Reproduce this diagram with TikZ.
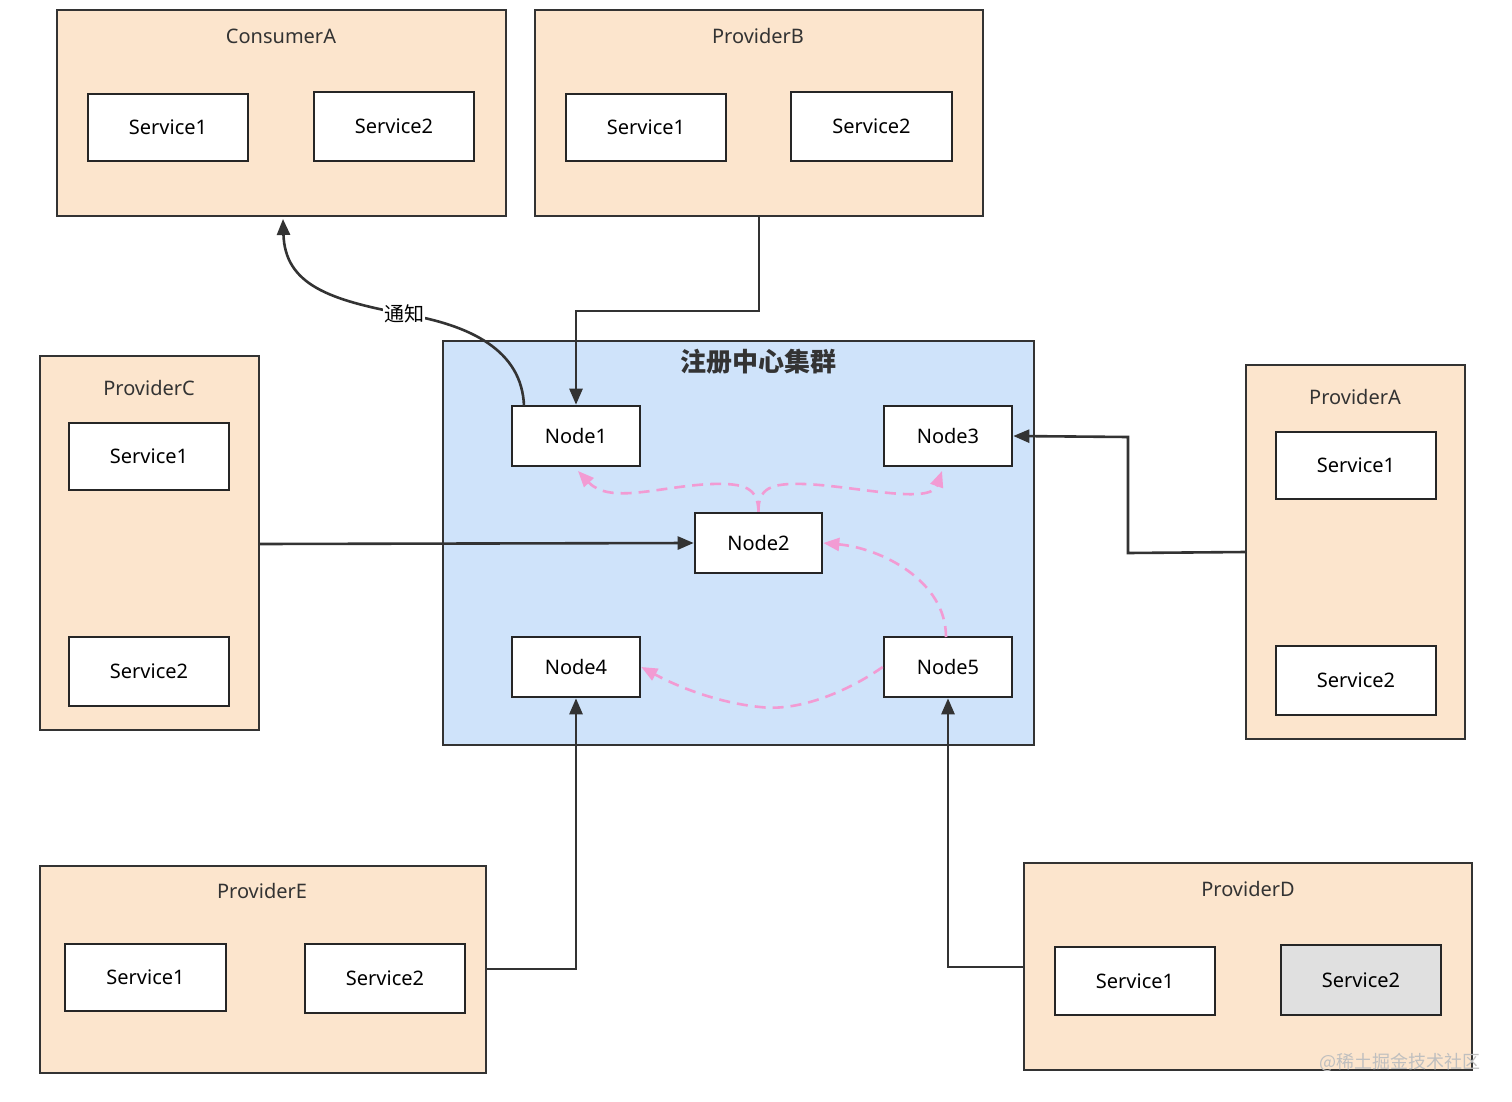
\documentclass[tikz,border=0pt]{standalone}
\usepackage{fontspec}
\setmainfont{Noto Sans}
\newfontfamily\cjk{Noto Sans CJK SC}
\usetikzlibrary{arrows.meta}
\definecolor{peach}{HTML}{FCE5CD}
\definecolor{clblue}{HTML}{CFE3FA}
\definecolor{pinkd}{HTML}{F29BD3}
\begin{document}
\begin{tikzpicture}[x=1pt,y=-1pt,
  grp/.style={draw=black!80,line width=2.6pt,fill=peach},
  svc/.style={draw=black!85,line width=2.6pt,fill=white,font=\fontsize{20}{24}\selectfont},
  ttl/.style={font=\fontsize{20}{24}\selectfont,text=black!80},
  conn/.style={draw=black!80,line width=2.6pt,-{Triangle[length=16pt,width=13pt]}},
  pk/.style={draw=pinkd,line width=2.6pt,dash pattern=on 11pt off 7pt,-{Triangle[length=16pt,width=13pt]}}]
\useasboundingbox (0,0) rectangle (1512,1102);
\def\sv#1#2#3#4#5#6{\node[svc,minimum width={#4-#2},minimum height={#5-#3},inner sep=0pt] (#1) at ({(#2+#4)/2},{(#3+#5)/2}) {#6};}
% ConsumerA
\draw[grp] (57,10) rectangle (506,216);
\node[ttl] (tA) at (281,36) {ConsumerA};
\sv{ca1}{88}{94}{248}{161}{Service1}
\sv{ca2}{314}{92}{474}{161}{Service2}
% ProviderB
\draw[grp] (535,10) rectangle (983,216);
\node[ttl] (tB) at (758,36) {ProviderB};
\sv{pb1}{566}{94}{726}{161}{Service1}
\sv{pb2}{791}{92}{952}{161}{Service2}
% ProviderC
\draw[grp] (40,356) rectangle (259,730);
\node[ttl] (tC) at (149,388) {ProviderC};
\sv{pc1}{69}{423}{229}{490}{Service1}
\sv{pc2}{69}{637}{229}{706}{Service2}
% ProviderA
\draw[grp] (1246,365) rectangle (1465,739);
\node[ttl] (tPA) at (1355,397) {ProviderA};
\sv{pa1}{1276}{432}{1436}{499}{Service1}
\sv{pa2}{1276}{646}{1436}{715}{Service2}
% ProviderE
\draw[grp] (40,866) rectangle (486,1073);
\node[ttl] (tE) at (262,891) {ProviderE};
\sv{pe1}{65}{944}{226}{1011}{Service1}
\sv{pe2}{305}{944}{465}{1013}{Service2}
% ProviderD
\draw[grp] (1024,863) rectangle (1472,1070);
\node[ttl] (tD) at (1248,889) {ProviderD};
\sv{pd1}{1055}{947}{1215}{1015}{Service1}
\node[svc,fill=black!12,minimum width=160,minimum height=70,inner sep=0pt] (pd2) at (1361,980) {Service2};
% cluster
\draw[draw=black!80,line width=2.6pt,fill=clblue] (443,341) rectangle (1034,745);
\node[font=\cjk\bfseries\fontsize{26}{30}\selectfont,text=black!80] (ct) at (758,362) {注册中心集群};
\sv{n1}{512}{406}{640}{466}{Node1}
\sv{n3}{884}{406}{1012}{466}{Node3}
\sv{n2}{695}{513}{822}{573}{Node2}
\sv{n4}{512}{637}{640}{697}{Node4}
\sv{n5}{884}{637}{1012}{697}{Node5}
% connectors
\draw[conn] (759,216) -- (759,311) -- (576,311) -- (n1.north);
\draw[conn] (259,544) -- (n2.west);
\draw[conn] (1246,552) -- (1128,553) -- (1128,437) -- (n3.east);
\draw[conn] (486,969) -- (576,969) -- (n4.south);
\draw[conn] (1024,967) -- (948,967) -- (n5.south -| 948,0);
\coordinate (n1a) at (524,406);
\coordinate (caB) at (283,219);
\draw[conn] (n1a) .. controls (522,350) and (470,325) .. (404,314) .. controls (330,300) and (285,285) .. (caB);
\node[fill=white,inner sep=1pt,font=\cjk\fontsize{20}{24}\selectfont] (tz) at (404,314) {通知};
% pink
\coordinate (n1b) at (578,471);
\coordinate (n3b) at (942,471);
\draw[pk] (n2.north) .. controls (758,488) and (745,483) .. (712,484) .. controls (660,486) and (610,505) .. (n1b);
\draw[pk] (n2.north) .. controls (758,488) and (771,483) .. (804,484) .. controls (856,486) and (930,505) .. (n3b);
\draw[pk] (946,637) .. controls (946,580) and (880,548) .. (n2.east);
\draw[pk] (n5.west) .. controls (850,690) and (800,712) .. (760,707) .. controls (720,703) and (680,688) .. (n4.east);
\node[font=\cjk\fontsize{18}{22}\selectfont,text=black!25,anchor=east] (wm) at (1484,1062) {@稀土掘金技术社区};
\end{tikzpicture}
\end{document}
